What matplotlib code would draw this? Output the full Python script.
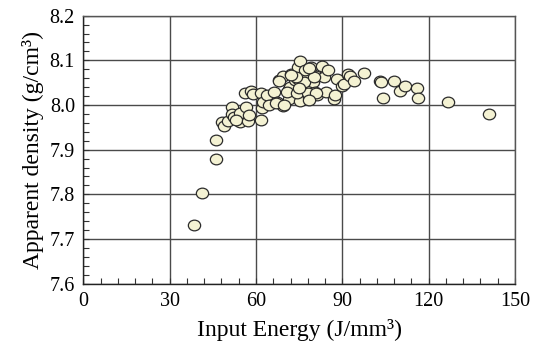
import numpy as np
import matplotlib
matplotlib.use('Agg')
import matplotlib.pyplot as plt
from matplotlib.path import Path
from matplotlib.transforms import Affine2D
from matplotlib.ticker import MultipleLocator

# Input energy (J/mm3) and apparent density (g/cm3)
energy = [38.5, 41.2, 46.2, 46.2, 48.1, 48.8, 50.3, 51.7, 51.5, 52.4, 54.4, 54.4, 53.1,
          56.6, 56.3, 57.3, 58.2, 59.1, 61.8, 61.8, 62.1, 62.3, 63.7, 64.6, 66.1, 67.3,
          67.9, 69.4, 69.4, 57.7, 66.9, 68.0,
          71.5, 72.1, 71.5, 71.8, 73.5, 74.6, 75.3, 74.6, 74.8, 75.3, 76.5, 77.2, 77.5,
          78.5, 79.0, 79.9, 80.5, 81.3, 80.8, 82.8, 83.7, 84.4, 85.0, 87.0, 87.6, 88.2,
          89.8, 70.9, 74.4, 77.9, 80.7, 76.7, 80.1, 73.8, 69.8, 78.4, 75.0, 78.4, 72.1,
          90.6, 91.8, 92.8, 94.2, 97.6, 103.0, 103.6, 104.2, 108.0, 110.0, 111.9, 116.0,
          116.4, 126.8, 141.1]
density = [7.732, 7.804, 7.922, 7.878, 7.962, 7.953, 7.965, 7.995, 7.980, 7.972, 7.961, 7.981, 7.966,
           7.996, 8.026, 7.965, 8.032, 8.024, 8.026, 7.967, 7.994, 8.006, 8.022, 8.000, 8.030, 8.006,
           8.056, 7.998, 8.064, 7.977, 8.004, 8.054,
           8.013, 8.069, 8.036, 8.041, 8.056, 8.084, 8.098, 8.058, 8.028, 8.009, 8.066, 8.078, 8.041,
           8.017, 8.086, 8.051, 8.030, 8.022, 8.066, 8.088, 8.062, 8.030, 8.079, 8.013, 8.022, 8.058,
           8.043, 8.030, 8.026, 8.026, 8.026, 8.052, 8.063, 8.063, 8.000, 8.011, 8.037, 8.082, 8.067,
           8.047, 8.069, 8.065, 8.054, 8.071, 8.054, 8.051, 8.015, 8.054, 8.032, 8.042, 8.037,
           8.015, 8.007, 7.979]

plt.rcParams['font.family'] = ['Liberation Serif', 'DejaVu Serif']

# slightly flattened circle marker
circ = Path.unit_circle()
ellipse = Affine2D().scale(1.0, 0.87).transform_path(circ)

fig = plt.figure(figsize=(5.4, 3.51), dpi=100)
ax = fig.add_axes([0.1543, 0.192, 0.7994, 0.7633])

ax.scatter(energy, density, s=78, marker=ellipse, facecolor='#f4f2d3',
           edgecolor='#2b2b2b', linewidths=0.9, zorder=3)

ax.set_xlim(0, 150)
ax.set_ylim(7.6, 8.2)
ax.xaxis.set_major_locator(MultipleLocator(30))
ax.xaxis.set_minor_locator(MultipleLocator(6))
ax.yaxis.set_minor_locator(MultipleLocator(0.02))
ax.set_yticks(np.arange(7.6, 8.21, 0.1))
ax.set_yticklabels([f'{v:.1f}' for v in np.arange(7.6, 8.21, 0.1)])

ax.grid(True, which='major', color='#4a4a4a', linewidth=1.0, zorder=0)
ax.tick_params(which='both', direction='in', top=False, right=False,
               labelsize=14.5, color='#333333', pad=6)
ax.tick_params(which='major', length=4)
ax.tick_params(which='minor', length=4, width=0.8)

for s in ['left', 'bottom']:
    ax.spines[s].set_color('#222222')
    ax.spines[s].set_linewidth(1.0)
for s in ['top', 'right']:
    ax.spines[s].set_color('#555555')
    ax.spines[s].set_linewidth(1.0)

ax.set_xlabel('Input Energy (J/mm³)', fontsize=17, labelpad=6)
ax.set_ylabel('Apparent density (g/cm³)', fontsize=17, labelpad=4)

fig.savefig('out.png', dpi=100)
